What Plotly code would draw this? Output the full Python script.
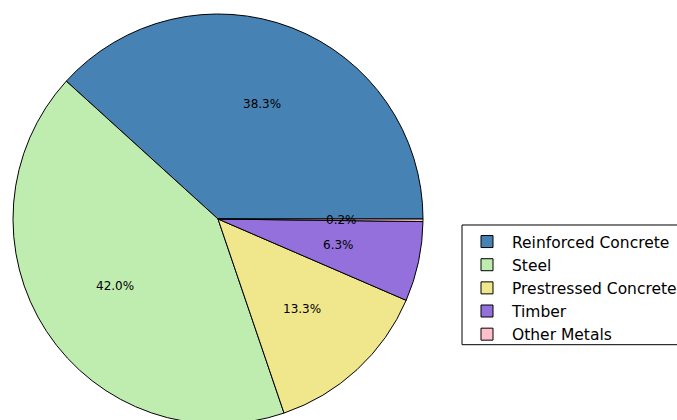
import math
import plotly.graph_objects as go

categories = ["Reinforced Concrete", "Steel", "Prestressed Concrete", "Timber", "Other Metals"]
shares = [38.3, 42.0, 13.3, 6.3, 0.2]
colors = ["#4682B4", "#BEEDAF", "#F0E68C", "#9370DB", "#FFC0CB"]

W, H = 740, 430   # larger canvas so the legend runs past the window edge, as in the reference
R = 205.5
CX, CY = 218.0, 219.0   # pie centre on screen
mt = CY - R
plot_h = 2 * R
mb = H - mt - plot_h
dom_x = [(CX - R) / W, (CX + R) / W]


def py(ypx):
    """screen y (px from top) -> paper y"""
    return (H - mb - ypx) / plot_h


total = sum(shares)
# first wedge starts at 3 o'clock and runs counterclockwise
rot = 90 - 360.0 * shares[0] / total

fig = go.Figure(go.Pie(
    labels=categories,
    values=shares,
    sort=False,
    direction="counterclockwise",
    rotation=rot,
    marker=dict(colors=colors, line=dict(color="black", width=1)),
    textinfo="none",
    hoverinfo="label+percent",
    domain=dict(x=dom_x, y=[0, 1]),
))

# percentage labels placed at 0.6 of the radius at each wedge's mid-angle
r_px = min((dom_x[1] - dom_x[0]) * W, plot_h) / 2
cx = (dom_x[0] + dom_x[1]) / 2
cy = 0.5
start = 0.0
for v in shares:
    span = 360.0 * v / total
    mid = math.radians(start + span / 2)
    start += span
    fig.add_annotation(
        x=cx + 0.6 * r_px * math.cos(mid) / W,
        y=cy + 0.6 * r_px * math.sin(mid) / plot_h,
        xref="paper", yref="paper",
        xanchor="center", yanchor="middle",
        text=f"{v:.1f}%", showarrow=False,
        font=dict(family="DejaVu Sans", size=12, color="black"),
    )

# legend frame (runs off the right edge like the reference)
fig.add_shape(
    type="rect", xref="paper", yref="paper",
    x0=462 / W, x1=1.0, y0=py(345), y1=py(225),
    line=dict(color="black", width=1), fillcolor="white", layer="above",
)

fig.update_layout(
    width=W, height=H,
    margin=dict(l=0, r=0, t=mt, b=mb),
    paper_bgcolor="white",
    plot_bgcolor="white",
    font=dict(family="DejaVu Sans", size=15.5, color="black"),
    legend=dict(
        x=462 / W, xanchor="left",
        y=py(225), yanchor="top",
        bgcolor="rgba(0,0,0,0)", borderwidth=0,
        font=dict(family="DejaVu Sans", size=15.5, color="black"),
        traceorder="normal",
        itemwidth=40,
    ),
    showlegend=True,
)

fig.write_html(
    "out.html",
    post_script="document.body.style.margin='0';document.body.style.overflow='hidden';",
)
